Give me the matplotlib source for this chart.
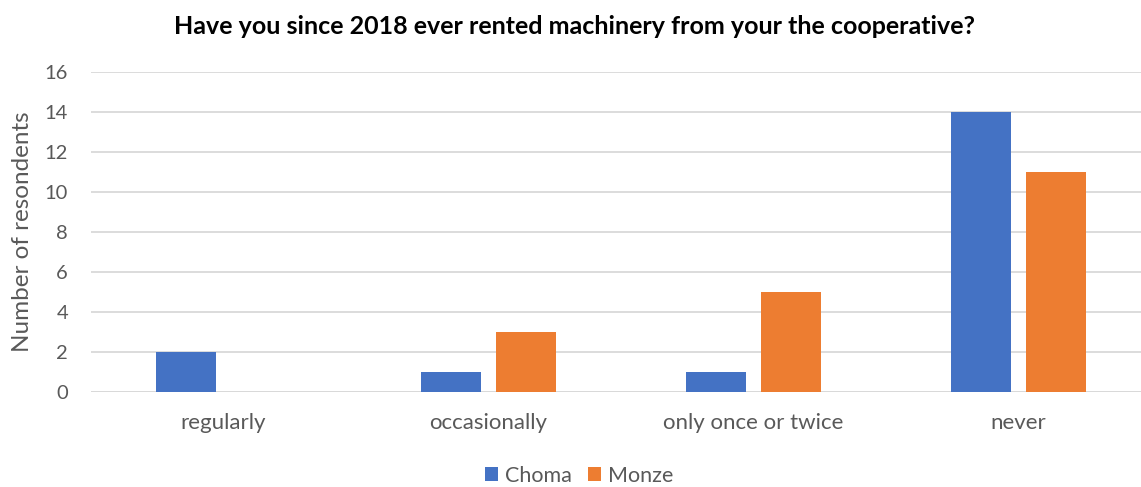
import matplotlib.pyplot as plt
import numpy as np

categories = ["regularly", "occasionally", "only once or twice", "never"]
choma = [2, 1, 1, 14]
monze = [0, 3, 5, 11]
series_names = ["Choma", "Monze"]
yticks = [0, 2, 4, 6, 8, 10, 12, 14, 16]

blue = "#4472C4"
orange = "#ED7D31"
text_col = "#595959"
grid_col = "#D9D9D9"

plt.rcParams['font.family'] = ['Lato', 'DejaVu Sans']

W, H = 1141, 487
fig = plt.figure(figsize=(W / 100, H / 100), dpi=100)
ax = fig.add_axes([91 / W, 95 / H, (W - 91) / W, 320 / H])

x = np.arange(len(categories))
bw = 0.227
off = 0.143
ax.bar(x - off, choma, bw, color=blue, label=series_names[0], zorder=3)
ax.bar(x + off, monze, bw, color=orange, label=series_names[1], zorder=3)

ax.set_xlim(-0.5, 3.5 - 10 / 264.7)
ax.set_ylim(0, 16)
ax.set_yticks(yticks)
ax.set_xticks(x)
ax.set_xticklabels(categories)
ax.yaxis.grid(True, color=grid_col, linewidth=1.3, zorder=0)
ax.set_axisbelow(True)
for s in ax.spines.values():
    s.set_visible(False)
ax.axhline(0, color=grid_col, linewidth=1.3, zorder=1)
ax.tick_params(axis='both', length=0, colors=text_col)
ax.tick_params(axis='x', pad=15, labelsize=16)
ax.tick_params(axis='y', pad=16.5, labelsize=14.5)
ax.set_ylabel("Number of resondents", color=text_col, fontsize=17.5)
ax.yaxis.set_label_coords(-58 / (W - 91), 0.5)

fig.text(575 / W, 1 - 26 / H, "Have you since 2018 ever rented machinery from your the cooperative?",
         ha='center', va='center', fontsize=18, fontweight='bold', color='black')

leg = fig.legend(loc='center', bbox_to_anchor=(579 / W, 1 - 476 / H), ncol=2, frameon=False,
                 fontsize=15.5, handlelength=0.62, handleheight=0.62, handletextpad=0.3,
                 columnspacing=0.75)
for t in leg.get_texts():
    t.set_color(text_col)

fig.savefig("out.png", dpi=100)
